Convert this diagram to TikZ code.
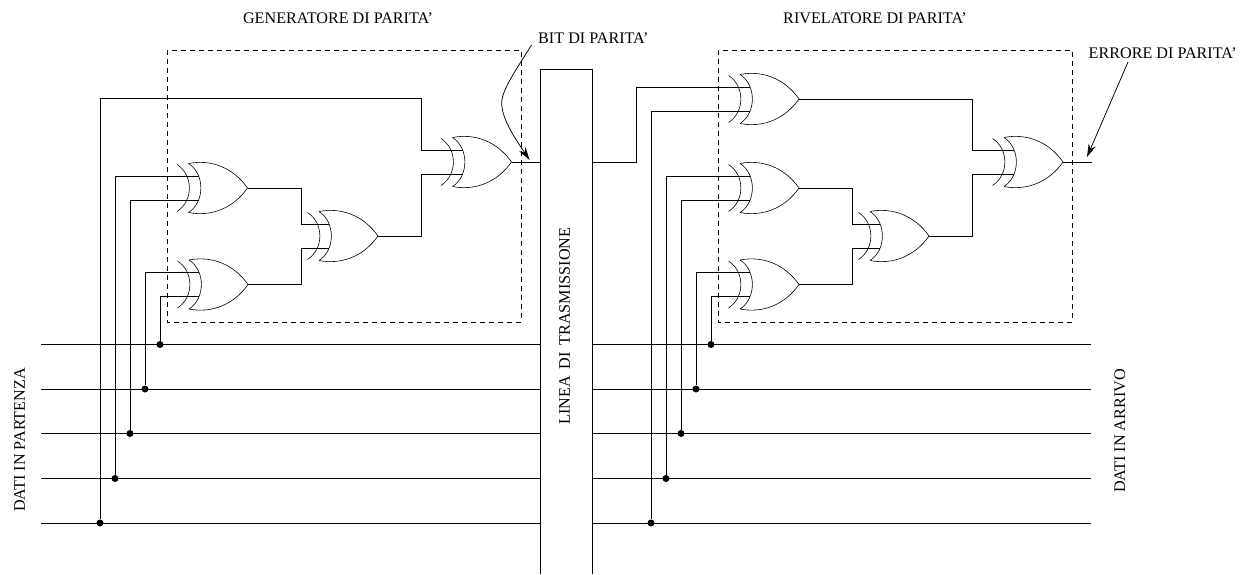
\documentclass[tikz,border=0pt]{standalone}
\usepackage{fontspec}
\setmainfont{Liberation Serif}
\usetikzlibrary{arrows.meta}
\tikzset{
	every picture/.style={x=1pt, y=-1pt},
	wire/.style={line width=0.75pt},
	thinwire/.style={line width=0.6pt},
	label/.style={font=\fontsize{16.15}{18}\selectfont, inner sep=0pt},
	joint/.style={circle, fill=black, inner sep=0pt, minimum size=7pt},
	framebox/.style={line width=0.75pt, dash pattern=on 5pt off 4pt},
	pointer/.style={line width=0.75pt, -{Stealth[length=13pt, width=7.5pt]}},
	xorgate/.pic={
		\coordinate (-out) at (0, 0);
		\coordinate (-a) at (-49, -12);
		\coordinate (-b) at (-49, 12);
		\draw[thinwire] (-59, -24.5) .. controls (-42.5, -14) and (-42.5, 14) .. (-59, 24.5)
			(-70.5, -23.5) .. controls (-54, -13) and (-54, 13) .. (-70.5, 23.5);
		\draw[thinwire] (-59, -24.5) .. controls (-36, -29) and (-14, -20) .. (0, 0)
			.. controls (-14, 20) and (-36, 29) .. (-59, 24.5);
	}
}
\begin{document}
\begin{tikzpicture}
	\useasboundingbox (0, 0) rectangle (1243, 574);
	
	%%%%% frames %%%%%
	\draw[framebox] (167, 50) rectangle (521, 322);
	\draw[framebox] (718, 50) rectangle (1072, 322);
	
	%%%%% bus lines %%%%%
	\foreach \name/\y in {a/344.5, b/389, c/433.5, d/478.5, e/523} {
		\coordinate (l\name) at (41, \y);
		\coordinate (m\name) at (540, \y);
		\coordinate (n\name) at (592, \y);
		\coordinate (r\name) at (1091, \y);
		\draw[wire] (l\name) -- (m\name);
		\draw[wire] (n\name) -- (r\name);
	}
	
	%%%%% transmission line %%%%%
	\coordinate (lineBL) at (540, 574);
	\coordinate (lineTR) at (592, 69);
	\draw[wire] (lineBL) |- (lineTR) -- (592, 574);
	
	%%%%% generator %%%%%
	\pic (gen1) at (247.5, 188) {xorgate};
	\pic (gen2) at (248, 284.5) {xorgate};
	\pic (gen3) at (378, 236) {xorgate};
	\pic (gen4) at (511.5, 162) {xorgate};
	
	\node[joint] (ja) at (160, 344.5) {};
	\node[joint] (jb) at (145, 389) {};
	\node[joint] (jc) at (130, 433.5) {};
	\node[joint] (jd) at (115, 478.5) {};
	\node[joint] (je) at (100, 523) {};
	
	\draw[wire] (ja) |- (gen2-b);
	\draw[wire] (jb) |- (gen2-a);
	\draw[wire] (jc) |- (gen1-b);
	\draw[wire] (jd) |- (gen1-a);
	\draw[wire] (je) |- (421, 98.5) |- (gen4-a);
	\draw[wire] (gen1-out) -| (301, 224) -- (gen3-a);
	\draw[wire] (gen2-out) -| (301, 248) -- (gen3-b);
	\draw[wire] (gen3-out) -| (421, 174) -- (gen4-b);
	\draw[wire] (gen4-out) -- (540, 162);
	
	%%%%% detector %%%%%
	\pic (det0) at (799, 99) {xorgate};
	\pic (det1) at (799, 188) {xorgate};
	\pic (det2) at (799, 284.5) {xorgate};
	\pic (det3) at (929, 236) {xorgate};
	\pic (det4) at (1063, 162) {xorgate};
	
	\node[joint] (ka) at (711, 344.5) {};
	\node[joint] (kb) at (696, 389) {};
	\node[joint] (kc) at (681, 433.5) {};
	\node[joint] (kd) at (666, 478.5) {};
	\node[joint] (ke) at (651, 523) {};
	
	\draw[wire] (ka) |- (det2-b);
	\draw[wire] (kb) |- (det2-a);
	\draw[wire] (kc) |- (det1-b);
	\draw[wire] (kd) |- (det1-a);
	\draw[wire] (ke) |- (det0-b);
	\draw[wire] (592, 162) -| (636.5, 87) -- (det0-a);
	\draw[wire] (det0-out) -| (972, 150) -- (det4-a);
	\draw[wire] (det1-out) -| (852, 224) -- (det3-a);
	\draw[wire] (det2-out) -| (852, 248) -- (det3-b);
	\draw[wire] (det3-out) -| (972, 174) -- (det4-b);
	\coordinate (errend) at (1091.5, 162);
	\draw[wire] (det4-out) -- (errend);
	
	%%%%% labels %%%%%
	\node[label] (gentitle) at (338, 18) {GENERATORE DI PARITA'};
	\node[label] (dettitle) at (875, 18) {RIVELATORE DI PARITA'};
	\node[label, anchor=west] (bitlab) at (538, 38) {BIT DI PARITA'};
	\node[label, anchor=west] (errlab) at (1088.5, 53) {ERRORE DI PARITA'};
	\node[label, rotate=90] (linelab) at (564.5, 326) {LINEA \,DI \,TRASMISSIONE};
	\node[label, rotate=90] (partlab) at (19.5, 440) {DATI IN PARTENZA};
	\node[label, rotate=90] (arrlab) at (1120, 431) {DATI IN ARRIVO};
	
	\coordinate (bitfrom) at (531.5, 45);
	\coordinate (bitbend) at (501.7, 103);
	\coordinate (bitto) at (529.5, 160);
	\coordinate (errfrom) at (1128, 62);
	\coordinate (errto) at (1087, 157);
	\draw[pointer] (bitfrom) .. controls (516, 70) and (501.7, 90) .. (bitbend)
		.. controls (501.7, 120) and (517, 141) .. (bitto);
	\draw[pointer] (errfrom) -- (errto);
\end{tikzpicture}
\end{document}
